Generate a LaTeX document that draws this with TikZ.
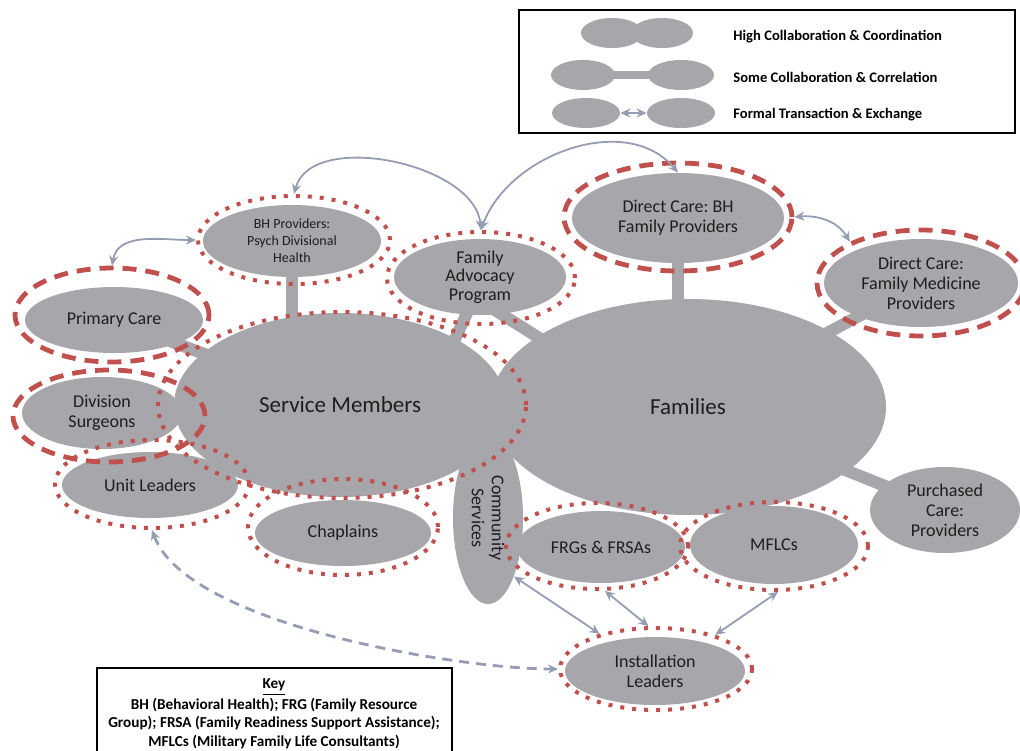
\documentclass[tikz,border=0pt]{standalone}
\usepackage{fontspec}
\setmainfont{Carlito}
\usetikzlibrary{shapes.geometric,arrows.meta,backgrounds}
\frenchspacing

\definecolor{blobgray}{RGB}{166,166,171}
\definecolor{ringred}{RGB}{192,80,77}
\definecolor{linkgray}{RGB}{150,156,178}
\definecolor{txtgray}{RGB}{30,30,30}

% one unit = one pixel of the 1020x750 layout, y downwards
% (ellipse sizes: minimum width/height in pt = radius in px)
\tikzset{
  blob/.style={ellipse,fill=blobgray,inner sep=0pt,text=txtgray,align=center,
    font=\fontsize{9}{10}\selectfont},
  dashring/.style={ellipse,draw=ringred,line width=2.4pt,dash pattern=on 7pt off 4.5pt,inner sep=0pt},
  dotring/.style={ellipse,draw=ringred,line width=2pt,dash pattern=on 2pt off 4pt,inner sep=0pt},
  bar/.style={draw=blobgray,line width=6pt,shorten <=-6pt,shorten >=-6pt},
  link/.style={draw=linkgray,line width=0.9pt,{Stealth[length=5pt,width=4.5pt]}-{Stealth[length=5pt,width=4.5pt]}},
  dlink/.style={link,line width=1.4pt,dash pattern=on 5pt off 3.5pt},
  legtxt/.style={anchor=west,inner sep=0pt,text=black,font=\fontsize{7.3}{8}\selectfont\bfseries}
}

\begin{document}
\begin{tikzpicture}[x=0.5pt,y=-0.5pt]
  \useasboundingbox (0,0) rectangle (1020,750);

  % legend
  \draw[line width=1pt] (519,10) rectangle (1015,133);
  \node[blob,minimum width=31pt,minimum height=15pt] (legHighL) at (612,33) {};
  \node[blob,minimum width=31pt,minimum height=15pt] (legHighR) at (662,33) {};
  \node[blob,minimum width=32pt,minimum height=15pt] (legSomeL) at (583,75) {};
  \node[blob,minimum width=33pt,minimum height=15pt] (legSomeR) at (681,75) {};
  \node[blob,minimum width=34pt,minimum height=15pt] (legFormL) at (586,113) {};
  \node[blob,minimum width=34pt,minimum height=15pt] (legFormR) at (681,113) {};
  \begin{pgfonlayer}{background}
    \draw[bar,line width=4pt] (legSomeL) -- (legSomeR);
  \end{pgfonlayer}
  \draw[link,line width=1.4pt] (legFormL) -- (legFormR);
  \node[legtxt] (legHighTxt) at (733,37) {High Collaboration \& Coordination};
  \node[legtxt] (legSomeTxt) at (733,77) {Some Collaboration \& Correlation};
  \node[legtxt] (legFormTxt) at (733,115) {Formal Transaction \& Exchange};

  % key
  \draw[line width=1pt] (97,668) rectangle (452,770);
  \node[anchor=north,align=center,font=\fontsize{7.6}{9.2}\selectfont\bfseries] (key) at (274,672)
    {\underline{Key}\\[1pt]BH (Behavioral Health); FRG (Family Resource\\Group); FRSA (Family Readiness Support Assistance);\\MFLCs (Military Family Life Consultants)};

  % groups
  \node[blob,minimum width=166pt,minimum height=92pt,font=\fontsize{11.5}{12}\selectfont] (sm) at (340,405) {Service Members};
  \node[blob,minimum width=198pt,minimum height=108pt,font=\fontsize{11.5}{12}\selectfont] (fam) at (688,407) {Families};
  \node[blob,rotate=-90,minimum width=86pt,minimum height=35pt] (cs) at (488,518) {Community\\Services};

  \node[blob,minimum width=89pt,minimum height=33pt] (pc) at (114,320) {Primary Care};
  \node[blob,minimum width=89pt,minimum height=36pt,font=\fontsize{7}{8.5}\selectfont] (bh) at (292,241) {BH Providers:\\Psych Divisional\\Health};
  \node[blob,minimum width=86pt,minimum height=38pt,font=\fontsize{9}{9.2}\selectfont] (fap) at (480,277) {Family\\Advocacy\\Program};
  \node[blob,minimum width=106pt,minimum height=45pt] (dcbh) at (678,218) {Direct Care: BH\\Family Providers};
  \node[blob,minimum width=97pt,minimum height=44pt] (dcfm) at (921,283) {Direct Care:\\Family Medicine\\Providers};
  \node[blob,minimum width=80pt,minimum height=36pt] (ds) at (102,413) {Division\\Surgeons};
  \node[blob,minimum width=88pt,minimum height=33pt] (ul) at (150,485) {Unit Leaders};
  \node[blob,minimum width=88pt,minimum height=33pt] (ch) at (343,533) {Chaplains};
  \node[blob,minimum width=84pt,minimum height=36pt] (frg) at (601,547) {FRGs \& FRSAs};
  \node[blob,minimum width=84pt,minimum height=39pt] (mflc) at (774,545) {MFLCs};
  \node[blob,minimum width=75pt,minimum height=43pt] (pcp) at (945,510) {Purchased\\Care:\\Providers};
  \node[blob,minimum width=90pt,minimum height=34pt] (il) at (655,671) {Installation\\Leaders};

  \begin{pgfonlayer}{background}
    \draw[bar] (pc) -- (sm);
    \draw[bar] (bh) -- (bh |- sm);
    \draw[bar] (fap.250) -- (sm.30);
    \draw[bar] (fap.300) -- (fam.155);
    \draw[bar] (dcbh) -- (dcbh |- fam);
    \draw[bar] (dcfm) -- (fam);
    \draw[bar] (pcp) -- (fam);
  \end{pgfonlayer}

  % rings
  \node[dotring,minimum width=184pt,minimum height=93pt] (smring) at (342,405) {};
  \node[dashring,minimum width=97pt,minimum height=47pt] (pcring) at (112,315) {};
  \node[dotring,minimum width=96pt,minimum height=44pt] (bhring) at (294,240) {};
  \node[dotring,minimum width=94pt,minimum height=46pt] (fapring) at (481,278) {};
  \node[dashring,minimum width=114pt,minimum height=54pt] (dcbhring) at (678,217) {};
  \node[dashring,minimum width=104pt,minimum height=53pt] (dcfmring) at (921,283) {};
  \node[dashring,minimum width=96pt,minimum height=46pt] (dsring) at (109,416) {};
  \node[dotring,minimum width=97pt,minimum height=44pt] (ulring) at (152,484) {};
  \node[dotring,minimum width=95pt,minimum height=48pt] (chring) at (343,527) {};
  \node[dotring,minimum width=91pt,minimum height=43pt] (frgring) at (597,546) {};
  \node[dotring,minimum width=94pt,minimum height=44pt] (mflcring) at (774,546) {};
  \node[dotring,minimum width=96pt,minimum height=41pt] (ilring) at (656,669) {};

  % formal links
  \draw[link] (pcring.north) to[out=80,in=180] (bhring.west);
  \draw[link] (bhring.north) to[out=75,in=95,looseness=0.9] (fapring.north);
  \draw[link] (fapring.north) to[out=70,in=130] (dcbh.north);
  \draw[link] (dcbhring.east) to[out=5,in=120] (dcfmring.150);
  \draw[link] (cs.24) -- (ilring.148);
  \draw[link] (frgring.280) -- (ilring.100);
  \draw[link] (mflcring.275) -- (ilring.30);
  \draw[dlink] (ulring.south) to[out=-70,in=180,looseness=0.6] (ilring.west);
\end{tikzpicture}
\end{document}
